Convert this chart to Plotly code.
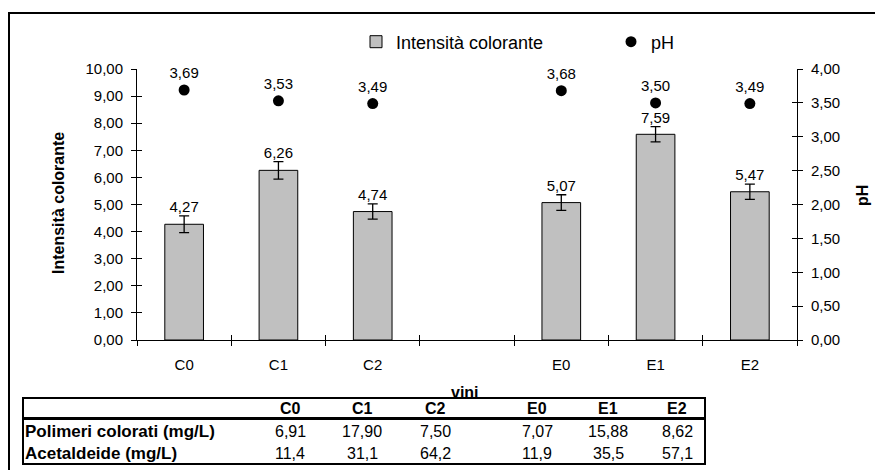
import plotly.graph_objects as go

# ---- data ---------------------------------------------------------------
wines = ["C0", "C1", "C2", "E0", "E1", "E2"]
axis_slots = ["C0", "C1", "C2", " ", "E0", "E1", "E2"]   # blank slot separates the two groups
intensity = [4.27, 6.26, 4.74, 5.07, 7.59, 5.47]
intensity_err = [0.31, 0.32, 0.28, 0.29, 0.28, 0.28]
ph = [3.69, 3.53, 3.49, 3.68, 3.50, 3.49]

table_rows = ["Polimeri colorati (mg/L)", "Acetaldeide (mg/L)"]
polimeri = [6.91, 17.90, 7.50, 7.07, 15.88, 8.62]
acetaldeide = [11.4, 31.1, 64.2, 11.9, 35.5, 57.1]

# ---- layout geometry (pixels) ------------------------------------------
FIG_W, FIG_H = 875, 470
L, R, T, B = 137, 797, 69, 340
FONT = "Arial, 'Liberation Sans', sans-serif"


def px_x(p):
    return (p - L) / (R - L)


def px_y(p):
    return (B - p) / (B - T)


def it(v, nd):
    return f"{v:.{nd}f}".replace(".", ",")


fig = go.Figure()

fig.add_trace(go.Bar(
    x=wines, y=intensity, name="Intensità colorante", legend="legend",
    width=0.41,
    marker=dict(color="#C0C0C0", line=dict(color="black", width=1)),
    error_y=dict(type="data", array=intensity_err, color="black",
                 thickness=1.3, width=5),
))

fig.add_trace(go.Scatter(
    x=wines, y=ph, name="pH", yaxis="y2", legend="legend2",
    mode="markers+text",
    marker=dict(color="black", size=11),
    text=[it(v, 2) for v in ph], textposition="top center",
    textfont=dict(size=15, color="black"),
    cliponaxis=False,
))

# value labels sitting on top of the error bars
fig.add_trace(go.Scatter(
    x=wines, y=[v + e for v, e in zip(intensity, intensity_err)],
    mode="text", text=[it(v, 2) for v in intensity],
    textposition="top center", textfont=dict(size=15, color="black"),
    showlegend=False, hoverinfo="skip", cliponaxis=False,
))

# helper traces so the inner-tick overlay axes get drawn
fig.add_trace(go.Scatter(x=[None], y=[None], xaxis="x2", yaxis="y3",
                         showlegend=False, hoverinfo="skip"))
fig.add_trace(go.Scatter(x=[None], y=[None], xaxis="x", yaxis="y4",
                         showlegend=False, hoverinfo="skip"))

axis_common = dict(showgrid=False, zeroline=False, showline=True,
                   linecolor="black", linewidth=1, tickcolor="black",
                   tickwidth=1, ticklen=5)

fig.update_layout(
    width=FIG_W, height=FIG_H,
    margin=dict(l=L, r=FIG_W - R, t=T, b=FIG_H - B),
    paper_bgcolor="white", plot_bgcolor="white",
    font=dict(family=FONT, size=15, color="black"),
    separators=", ",
    xaxis=dict(type="category", categoryorder="array", categoryarray=axis_slots,
               range=[-0.5, 6.5], tickson="boundaries", ticks="outside",
               ticklabelstandoff=11, tickfont=dict(size=15), **axis_common),
    xaxis2=dict(type="category", categoryorder="array", categoryarray=axis_slots,
                range=[-0.5, 6.5], tickson="boundaries", ticks="inside",
                overlaying="x", anchor="y", showticklabels=False,
                showgrid=False, zeroline=False, showline=False,
                tickcolor="black", tickwidth=1, ticklen=5),
    yaxis=dict(range=[0, 10], dtick=1, tickformat=".2f", ticks="outside",
               ticklabelstandoff=5, tickfont=dict(size=15), **axis_common),
    yaxis2=dict(range=[0, 4], dtick=0.5, tickformat=".2f", ticks="outside",
                overlaying="y", side="right", anchor="x",
                ticklabelstandoff=5, tickfont=dict(size=15), **axis_common),
    yaxis3=dict(range=[0, 10], dtick=1, ticks="inside", overlaying="y",
                side="left", anchor="x", showticklabels=False, showgrid=False,
                zeroline=False, showline=False, tickcolor="black",
                tickwidth=1, ticklen=5),
    yaxis4=dict(range=[0, 4], dtick=0.5, ticks="inside", overlaying="y",
                side="right", anchor="x", showticklabels=False, showgrid=False,
                zeroline=False, showline=False, tickcolor="black",
                tickwidth=1, ticklen=5),
    legend=dict(orientation="h", x=px_x(356), xanchor="left",
                y=px_y(42), yanchor="middle", font=dict(size=18),
                bgcolor="rgba(0,0,0,0)"),
    legend2=dict(orientation="h", x=px_x(611), xanchor="left",
                 y=px_y(42), yanchor="middle", font=dict(size=18),
                 bgcolor="rgba(0,0,0,0)"),
    showlegend=True,
)

# outer chart frame
fig.add_shape(type="rect", xref="paper", yref="paper",
              x0=px_x(9), y0=px_y(13), x1=px_x(885), y1=px_y(485),
              line=dict(color="black", width=2), fillcolor="rgba(0,0,0,0)",
              layer="below")


def note(text, xp, yp, xanchor="center", yanchor="middle", **kw):
    return dict(text=text, x=px_x(xp), y=px_y(yp), xref="paper", yref="paper",
                xanchor=xanchor, yanchor=yanchor, showarrow=False, **kw)


annotations = []
# axis titles
annotations.append(note("<b>Intensità colorante</b>", 58, 203, textangle=-90,
                        font=dict(size=16)))
annotations.append(note("<b>pH</b>", 862, 195, textangle=-90,
                        font=dict(size=16)))
annotations.append(note("<b>vini</b>", 465, 392, font=dict(size=16)))

# data table: header box and body box (white, drawn over the axis title)
tab_l, tab_r = 22, 706
tab_top, tab_mid, tab_bot = 397, 419, 464
tab_cx = (tab_l + tab_r) / 2
annotations.append(note(" ", tab_cx, (tab_top + tab_mid) / 2,
                        width=tab_r - tab_l - 4, height=tab_mid - tab_top - 4,
                        borderpad=0, borderwidth=2, bordercolor="black",
                        bgcolor="white"))
annotations.append(note(" ", tab_cx, (tab_mid + tab_bot) / 2,
                        width=tab_r - tab_l - 4, height=tab_bot - tab_mid - 2,
                        borderpad=0, borderwidth=2, bordercolor="black",
                        bgcolor="white"))

col_x = [290, 362, 435, 537, 608, 677]
row_y = [431, 453]
for cx, w in zip(col_x, wines):
    annotations.append(note(f"<b>{w}</b>", cx, 408, font=dict(size=16)))
for ry, label, vals, nd in zip(row_y, table_rows, [polimeri, acetaldeide], [2, 1]):
    annotations.append(note(f"<b>{label}</b>", tab_l + 1, ry, xanchor="left",
                            font=dict(size=17)))
    for cx, v in zip(col_x, vals):
        annotations.append(note(it(v, nd), cx, ry, font=dict(size=16)))

fig.update_layout(annotations=annotations)

fig.write_html("out.html")
